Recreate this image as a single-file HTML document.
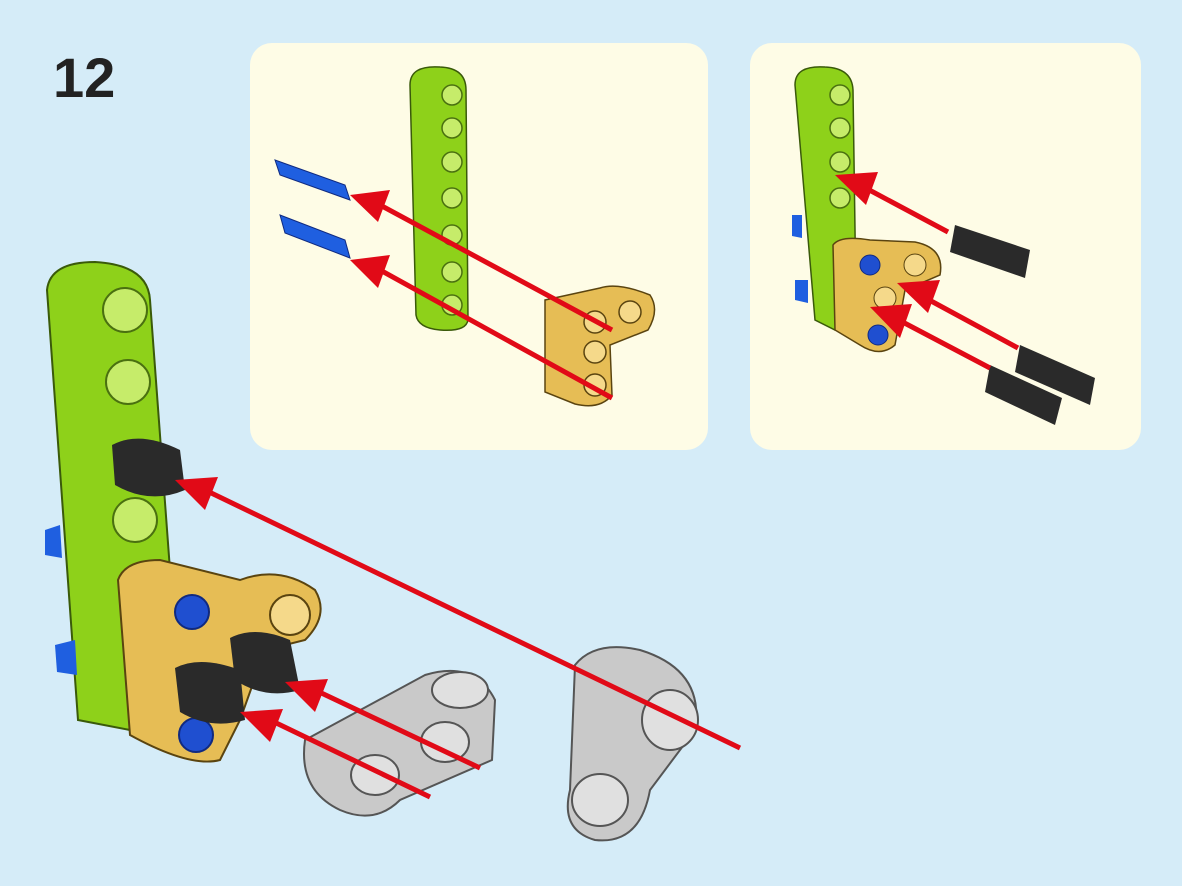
<!DOCTYPE html>
<html><head><meta charset="utf-8"><style>
html,body{margin:0;padding:0;background:#d5ecf8;}
svg{display:block}
</style></head><body>
<svg width="1182" height="886" viewBox="0 0 1182 886" xmlns="http://www.w3.org/2000/svg">
<rect width="1182" height="886" fill="#d5ecf8"/>
<text x="53" y="97" font-family="Liberation Sans, sans-serif" font-weight="bold" font-size="56" fill="#222">12</text>
<rect x="250" y="43" width="458" height="407" rx="22" fill="#fefce6"/>
<rect x="750" y="43" width="391" height="407" rx="22" fill="#fefce6"/>

<!-- panel1 -->
<g>
<path d="M410 85 Q410 65 440 67 Q466 68 466 90 L468 320 Q466 332 440 330 Q418 328 416 315 Z" fill="#8ed11a" stroke="#3a5a0a" stroke-width="1.5"/>
<g fill="#c6ec6a" stroke="#4a7010" stroke-width="1.5">
<circle cx="452" cy="95" r="10"/><circle cx="452" cy="128" r="10"/><circle cx="452" cy="162" r="10"/><circle cx="452" cy="198" r="10"/><circle cx="452" cy="235" r="10"/><circle cx="452" cy="272" r="10"/><circle cx="452" cy="305" r="10"/>
</g>
<path d="M545 300 L600 288 Q618 282 650 295 Q660 310 648 330 L610 345 L612 395 Q600 410 575 404 L545 392 Z" fill="#e6bd55" stroke="#5a4410" stroke-width="1.5"/>
<g fill="#f5d98a" stroke="#5a4410" stroke-width="1.5"><circle cx="595" cy="322" r="11"/><circle cx="630" cy="312" r="11"/><circle cx="595" cy="352" r="11"/><circle cx="595" cy="385" r="11"/></g>
<path d="M275 160 L345 185 L350 200 L280 175 Z" fill="#1f5fe0" stroke="#102a80"/>
<path d="M280 215 L345 240 L350 258 L285 233 Z" fill="#1f5fe0" stroke="#102a80"/>
<g stroke="#e10a17" stroke-width="5" fill="#e10a17">
<line x1="380" y1="205" x2="612" y2="330"/><line x1="380" y1="270" x2="612" y2="398"/>
<polygon points="350,195 390,190 378,222" stroke="none"/><polygon points="350,260 390,255 378,288" stroke="none"/>
</g>
</g>

<!-- panel2 -->
<g>
<path d="M795 85 Q795 65 825 67 Q852 68 853 90 L856 300 L835 330 L815 320 Z" fill="#8ed11a" stroke="#3a5a0a" stroke-width="1.5"/>
<g fill="#c6ec6a" stroke="#4a7010" stroke-width="1.5"><circle cx="840" cy="95" r="10"/><circle cx="840" cy="128" r="10"/><circle cx="840" cy="162" r="10"/><circle cx="840" cy="198" r="10"/></g>
<path d="M833 245 Q840 235 870 240 L915 242 Q945 248 940 275 L905 290 L895 345 Q880 358 860 345 L835 330 Z" fill="#e6bd55" stroke="#5a4410" stroke-width="1.5"/>
<g fill="#1f4fd0" stroke="#102a80"><circle cx="870" cy="265" r="10"/><circle cx="878" cy="335" r="10"/></g>
<g fill="#f5d98a" stroke="#5a4410"><circle cx="915" cy="265" r="11"/><circle cx="885" cy="298" r="11"/></g>
<path d="M955 225 L1030 250 L1025 278 L950 252 Z" fill="#2a2a2a"/>
<path d="M1020 345 L1095 378 L1090 405 L1015 372 Z" fill="#2a2a2a"/>
<path d="M990 365 L1062 398 L1055 425 L985 392 Z" fill="#2a2a2a"/>
<path d="M792 215 L802 215 L802 238 L792 236 Z" fill="#1f5fe0"/>
<path d="M795 280 L808 280 L808 303 L795 300 Z" fill="#1f5fe0"/>
<g stroke="#e10a17" stroke-width="5" fill="#e10a17">
<line x1="860" y1="185" x2="948" y2="232"/><line x1="920" y1="295" x2="1018" y2="348"/><line x1="895" y1="318" x2="990" y2="368"/>
<polygon points="835,175 878,172 866,205" stroke="none"/><polygon points="897,283 940,280 928,313" stroke="none"/><polygon points="870,307 912,304 900,338" stroke="none"/>
</g>
</g>

<!-- main -->
<g>
<path d="M47 290 Q50 262 95 262 Q148 265 150 300 L170 570 L130 730 L78 720 Z" fill="#8ed11a" stroke="#3a5a0a" stroke-width="2"/>
<g fill="#c6ec6a" stroke="#4a7010" stroke-width="2"><circle cx="125" cy="310" r="22"/><circle cx="128" cy="382" r="22"/><circle cx="135" cy="520" r="22"/></g>
<path d="M118 580 Q125 560 160 560 L240 580 Q280 565 315 590 Q330 615 305 640 L265 650 L240 720 L220 760 Q190 768 130 735 Z" fill="#e6bd55" stroke="#5a4410" stroke-width="2"/>
<g fill="#f5d98a" stroke="#5a4410" stroke-width="2"><circle cx="290" cy="615" r="20"/></g>
<g fill="#1f4fd0" stroke="#102a80" stroke-width="2"><circle cx="192" cy="612" r="17"/><circle cx="196" cy="735" r="17"/></g>
<path d="M112 445 Q140 430 180 450 L185 490 Q150 505 115 485 Z" fill="#2a2a2a"/>
<path d="M230 638 Q255 625 290 640 L300 690 Q265 700 235 680 Z" fill="#2a2a2a"/>
<path d="M175 668 Q200 655 240 670 L245 720 Q210 730 180 712 Z" fill="#2a2a2a"/>
<path d="M45 530 L60 525 L62 558 L45 555 Z" fill="#1f5fe0"/>
<path d="M55 645 L75 640 L77 675 L57 672 Z" fill="#1f5fe0"/>
<path d="M305 740 L425 675 Q475 660 495 700 L492 760 L400 800 Q375 825 340 810 Q298 790 305 740 Z" fill="#c9c9c9" stroke="#555" stroke-width="2"/>
<g fill="#e0e0e0" stroke="#555" stroke-width="2"><ellipse cx="375" cy="775" rx="24" ry="20"/><ellipse cx="445" cy="742" rx="24" ry="20"/><ellipse cx="460" cy="690" rx="28" ry="18"/></g>
<path d="M575 665 Q595 640 640 650 Q705 670 695 730 L650 790 Q640 845 595 840 Q560 830 570 790 Z" fill="#c9c9c9" stroke="#555" stroke-width="2"/>
<g fill="#e0e0e0" stroke="#555" stroke-width="2"><ellipse cx="670" cy="720" rx="28" ry="30"/><ellipse cx="600" cy="800" rx="28" ry="26"/></g>
<g stroke="#e10a17" stroke-width="5" fill="#e10a17">
<line x1="205" y1="490" x2="740" y2="748"/><line x1="315" y1="690" x2="480" y2="768"/><line x1="270" y1="720" x2="430" y2="797"/>
<polygon points="175,480 218,477 205,510" stroke="none"/><polygon points="285,682 328,679 315,712" stroke="none"/><polygon points="240,712 283,709 270,742" stroke="none"/>
</g>
</g>
</svg>
</body></html>
